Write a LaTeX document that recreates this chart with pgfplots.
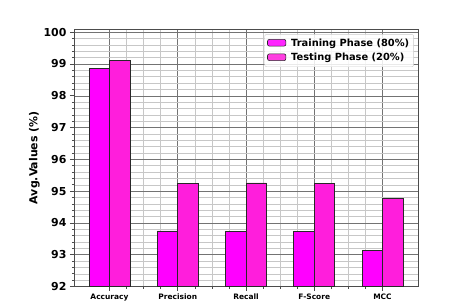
\documentclass[border=0pt]{standalone}
\usepackage{pgfplots}
\pgfplotsset{compat=1.18}
\usepackage{fontspec}
\setmainfont{DejaVu Sans}
\definecolor{trainc}{RGB}{255,0,255}
\definecolor{testc}{RGB}{255,30,220}
\definecolor{edgec}{RGB}{40,40,40}
\begin{document}
\begin{tikzpicture}
\begin{axis}[
  scale only axis,
  width=344bp, height=257.5bp,
  xmin=-0.52, xmax=4.52,
  ymin=92, ymax=100.1,
  xtick={0,1,2,3,4},
  xticklabels={Accuracy,Precision,Recall,F-Score,MCC},
  minor x tick num=3,
  ytick={92,93,94,95,96,97,98,99,100},
  minor y tick num=4,
  grid=both,
  major grid style={draw=black!55, line width=0.5pt},
  minor grid style={draw=black!22, line width=0.5pt},
  tick align=outside,
  tick pos=left,
  major tick length=4bp,
  minor tick length=2bp,
  tick style={draw=black!70, line width=0.6pt},
  axis line style={draw=black!70, line width=0.8pt},
  /pgf/number format/assume math mode=true,
  yticklabel style={font=\fontsize{11}{12}\selectfont\bfseries},
  xticklabel style={font=\fontsize{7.5}{9}\selectfont\bfseries},
  ylabel={Avg.Values (\%)},
  ylabel style={font=\fontsize{11}{13}\selectfont\bfseries, yshift=-3bp},
  ybar,
  bar width=0.3,
  legend style={at={(rel axis cs:0.988,0.98)}, anchor=north east,
    font=\fontsize{9.9}{12.5}\selectfont\bfseries,
    draw=black!20, fill=white, fill opacity=0.85, text opacity=1,
    rounded corners=2pt, row sep=1.5pt, inner sep=2.5pt},
  legend cell align=left,
  legend image code/.code={\draw[#1, draw=edgec, line width=0.6pt] (0cm,-0.1cm) rectangle (0.65cm,0.14cm);},
]
\addplot[fill=trainc, draw=edgec, line width=0.7pt, bar shift=-0.15] coordinates {(0,98.85) (1,93.75) (2,93.73) (3,93.73) (4,93.13)};
\addlegendentry{\hspace{3bp}Training Phase (80\%)}
\addplot[fill=testc, draw=edgec, line width=0.7pt, bar shift=0.15] coordinates {(0,99.10) (1,95.24) (2,95.26) (3,95.24) (4,94.76)};
\addlegendentry{\hspace{3bp}Testing Phase (20\%)}
\end{axis}
\path (current axis.south west) ++(-74bp,-18.5bp) rectangle ++(464bp,305bp);
\end{tikzpicture}
\end{document}
